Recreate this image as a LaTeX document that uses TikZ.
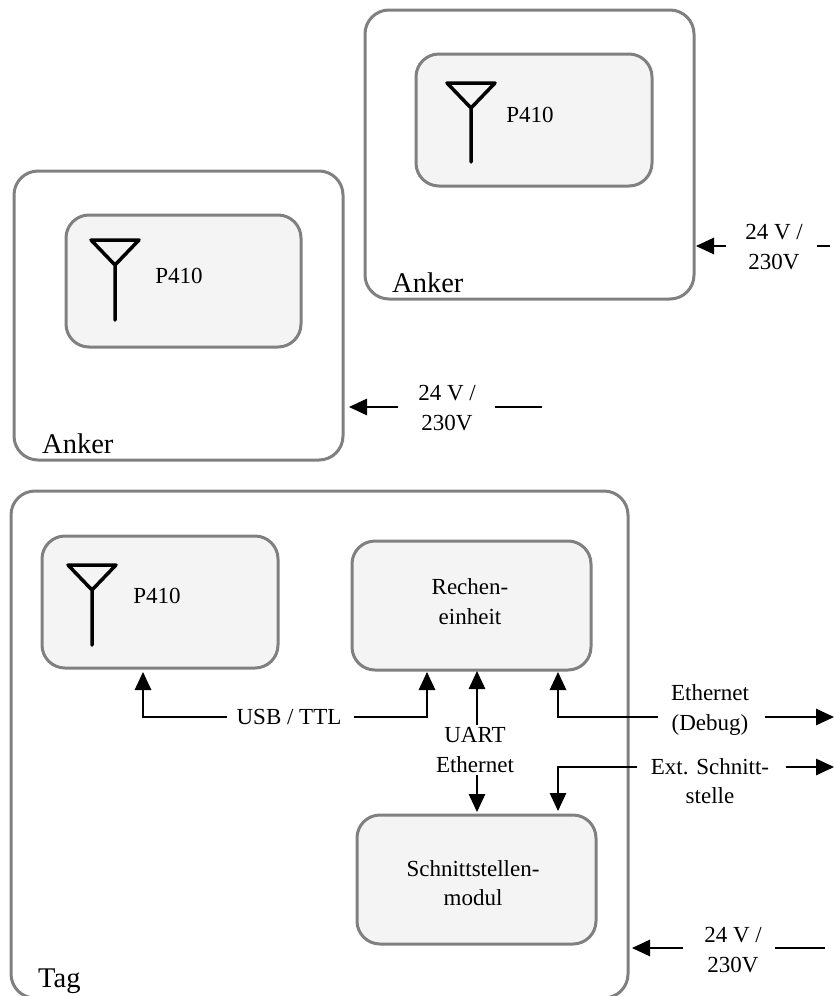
\documentclass[tikz,border=0pt]{standalone}
\usepackage{fontspec}
\setmainfont{Liberation Serif}
\usetikzlibrary{arrows.meta}
\definecolor{boxedge}{HTML}{808080}
\definecolor{boxfill}{HTML}{F4F4F4}
\tikzset{
  outerbox/.style={draw=boxedge,line width=3pt,rounded corners=24pt,fill=white,inner sep=0pt,outer sep=0pt,anchor=north west},
  innerbox/.style={draw=boxedge,line width=3pt,rounded corners=23pt,fill=boxfill,inner sep=0pt,outer sep=0pt,anchor=north west},
  lab/.style={inner sep=0pt,outer sep=0pt,align=center,font=\fontsize{23}{29.5}\selectfont},
  biglab/.style={inner sep=0pt,anchor=base west,font=\fontsize{28.5}{32}\selectfont},
  conn/.style={draw=black,line width=1.2pt},
  arr/.style={conn,-{Triangle[length=18pt,width=16.5pt]}},
  antline/.style={draw=black,line width=3.5pt,line cap=round,line join=round},
}
\begin{document}
\begin{tikzpicture}[x=1pt,y=-1pt]
\useasboundingbox (0,0) rectangle (834,996);
% outer boxes
\node[outerbox,minimum width=329pt,minimum height=289pt] (ankerA) at (365,10) {};
\node[outerbox,minimum width=329pt,minimum height=289pt] (ankerB) at (14,171) {};
\node[outerbox,minimum width=617pt,minimum height=507pt] (tag) at (11,491) {};
% inner boxes
\node[innerbox,minimum width=236pt,minimum height=132pt] (pA) at (416,54) {};
\node[innerbox,minimum width=235pt,minimum height=132pt] (pB) at (66,215) {};
\node[innerbox,minimum width=236pt,minimum height=132pt] (pC) at (42,536) {};
\node[innerbox,minimum width=239pt,minimum height=129pt] (rechen) at (352,541) {};
\node[innerbox,minimum width=239pt,minimum height=129pt] (schnitt) at (357,815) {};
% antennas
\draw[antline] (447,83) -- (495,83) -- (471,108) -- cycle (471,108) -- (471,162);
\draw[antline] (91,240) -- (139,240) -- (115,265) -- cycle (115,265) -- (115,320);
\draw[antline] (68,565) -- (116,565) -- (92,590) -- cycle (92,590) -- (92,645);
% texts
\node[lab] (tA) at (530,115) {P410};
\node[lab] (tB) at (179,276) {P410};
\node[lab] (tC) at (157,596) {P410};
\node[lab] (tR) at (470,601.5) {Rechen-\\einheit};
\node[lab] (tS) at (473,883) {Schnittstellen-\\modul};
\node[biglab] (nA) at (392,292) {Anker};
\node[biglab] (nB) at (42,453) {Anker};
\node[biglab] (nC) at (38,987) {Tag};
\node[lab] (usb) at (289,717) {USB / TTL};
\node[lab] (uart) at (475,750) {UART\\Ethernet};
\node[lab] (eth) at (710,710) {Ethernet\\(Debug)};
\node[lab] (ext) at (710,781) {Ext. Schnitt-\\stelle};
\node[lab] (pwA) at (774,247) {24 V /\\230V};
\node[lab] (pwB) at (447,408) {24 V /\\230V};
\node[lab] (pwC) at (733,950) {24 V /\\230V};
% anchors on the box edges and free ends
\coordinate (usbL) at (143,672);
\coordinate (usbR) at (427,672);
\coordinate (uartT) at (477,671);
\coordinate (uartB) at (477,812);
\coordinate (uartA) at (477,725);
\coordinate (uartC) at (477,775);
\coordinate (ethT) at (558,672);
\coordinate (extT) at (558,811);
\coordinate (ethOut) at (834,717);
\coordinate (extOut) at (834,767);
\coordinate (inA) at (696,246);
\coordinate (inB) at (349,407);
\coordinate (inC) at (632,948);
\coordinate (endA) at (830,246);
\coordinate (endB) at (542,407);
\coordinate (endC) at (825,948);
% connectors
\draw[arr] (usb.west) ++(-10pt,0) -| (usbL);
\draw[arr] (usb.east) ++(13pt,0) -| (usbR);
\draw[arr] (uartA) -- (uartT);
\draw[arr] (uartC) -- (uartB);
\draw[arr] (eth.west |- ethOut) ++(-13pt,0) -| (ethT);
\draw[arr] (ext.west |- extOut) ++(-14pt,0) -| (extT);
\draw[arr] (eth.east |- ethOut) ++(16pt,0) -- (ethOut);
\draw[arr] (ext.east |- extOut) ++(17pt,0) -- (extOut);
\draw[arr] (pwA.west |- inA) ++(-19pt,0) -- (inA);
\draw[arr] (pwB.west |- inB) ++(-20pt,0) -- (inB);
\draw[arr] (pwC.west |- inC) ++(-21pt,0) -- (inC);
\draw[conn] (pwA.east |- endA) ++(14pt,0) -- (endA);
\draw[conn] (pwB.east |- endB) ++(19pt,0) -- (endB);
\draw[conn] (pwC.east |- endC) ++(13pt,0) -- (endC);
\end{tikzpicture}
\end{document}
